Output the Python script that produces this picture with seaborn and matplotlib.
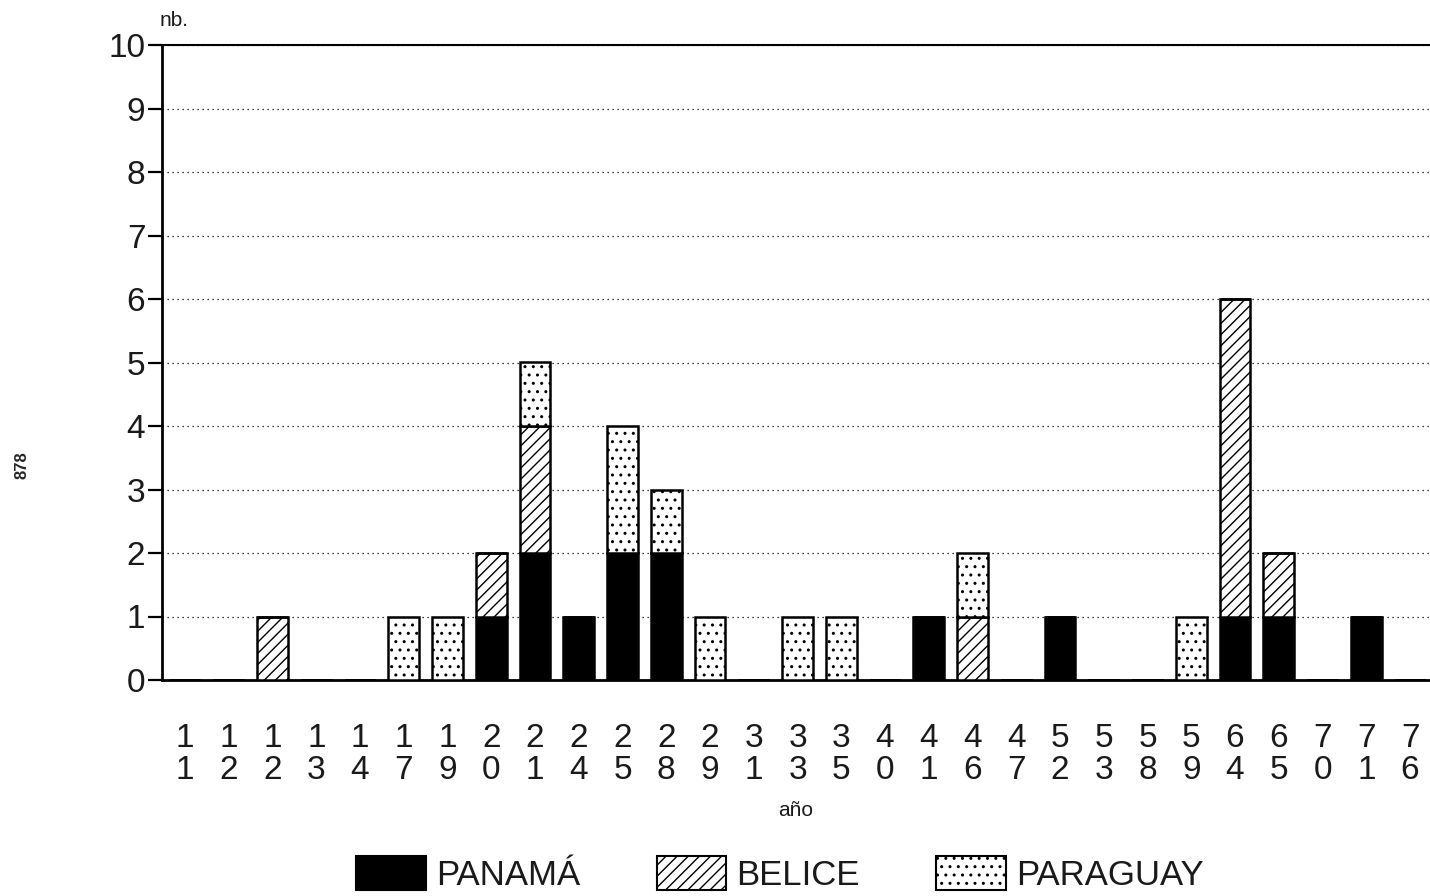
import numpy as np
import pandas as pd
import matplotlib
matplotlib.use("Agg")
import matplotlib.pyplot as plt
import seaborn as sns
from matplotlib.patches import Patch

years = ["11", "12", "12", "13", "14", "17", "19", "20", "21", "24", "25", "28", "29", "31",
         "33", "35", "40", "41", "46", "47", "52", "53", "58", "59", "64", "65", "70", "71", "76"]
panama   = [0, 0, 0, 0, 0, 0, 0, 1, 2, 1, 2, 2, 0, 0, 0, 0, 0, 1, 0, 0, 1, 0, 0, 0, 1, 1, 0, 1, 0]
belice   = [0, 0, 1, 0, 0, 0, 0, 1, 2, 0, 0, 0, 0, 0, 0, 0, 0, 0, 1, 0, 0, 0, 0, 0, 5, 1, 0, 0, 0]
paraguay = [0, 0, 0, 0, 0, 1, 1, 0, 1, 0, 2, 1, 1, 0, 1, 1, 0, 0, 1, 0, 0, 0, 0, 1, 0, 0, 0, 0, 0]
series_names = ["PANAMÁ", "BELICE", "PARAGUAY"]

sns.set_style("white")
plt.rcParams["font.family"] = ["Liberation Sans", "DejaVu Sans"]
plt.rcParams["hatch.linewidth"] = 1.0
plt.rcParams["hatch.color"] = "black"

W, H = 1430, 896
fig = plt.figure(figsize=(W / 100, H / 100), dpi=100)
ax = fig.add_axes([162 / W, 1 - 680 / H, (W - 162) / W, (680 - 45) / H])

pos = list(range(len(years)))
df = pd.DataFrame({"pos": pos, "panama": panama, "belice": belice, "paraguay": paraguay})
b1 = np.array(panama)
b2 = b1 + np.array(belice)

common = dict(x="pos", width=0.7, saturation=1, edgecolor="black", linewidth=1.8,
              errorbar=None, ax=ax, zorder=3)
sns.barplot(data=df, y="panama", color="black", **common)
sns.barplot(data=df, y="belice", color="white", hatch="///", bottom=b1, **common)
sns.barplot(data=df, y="paraguay", color="white", hatch="..", bottom=b2, **common)

txt_color = "#1a1a1a"
ax.set_xlim(-0.526, 28.457)
ax.set_ylim(0, 10)
ax.set_yticks(range(0, 11))
ax.set_yticklabels([str(i) for i in range(0, 11)], fontsize=24, color=txt_color)
ax.set_xticks(pos)
ax.set_xticklabels([f"{y[0]}\n{y[1]}" for y in years], fontsize=24, linespacing=1.02,
                   color=txt_color)
ax.tick_params(axis="x", direction="inout", length=18, width=1.6, color="black", pad=22)
ax.tick_params(axis="y", direction="out", length=10, width=1.6, color="black", pad=2, left=True)

ax.yaxis.grid(True, linestyle=(0, (1, 3)), color="black", linewidth=0.9)
ax.xaxis.grid(False)
ax.set_axisbelow(True)

for s in ["left", "bottom"]:
    ax.spines[s].set_linewidth(2.0)
    ax.spines[s].set_color("black")
ax.spines["top"].set_linewidth(1.5)
ax.spines["top"].set_color("black")
ax.spines["right"].set_visible(False)

ax.set_xlabel("año", fontsize=15, labelpad=11, color=txt_color)
ax.set_ylabel("")
fig.text(160 / W, 1 - 20 / H, "nb.", fontsize=15, ha="left", va="center", color=txt_color)
fig.text(22 / W, 1 - 465 / H, "878", fontsize=12, rotation=90, ha="center", va="center",
         fontweight="bold")

handles = [Patch(facecolor="black", edgecolor="black", linewidth=1.5),
           Patch(facecolor="white", edgecolor="black", hatch="///", linewidth=1.5),
           Patch(facecolor="white", edgecolor="black", hatch="..", linewidth=1.5)]
fig.legend(handles, series_names, loc="center", bbox_to_anchor=(780 / W, 1 - 874 / H),
           ncol=3, frameon=False, fontsize=25, handlelength=2.0, handleheight=1.1,
           handletextpad=0.3, columnspacing=2.2, borderaxespad=0, labelcolor=txt_color)

fig.savefig("out.png", dpi=100)
